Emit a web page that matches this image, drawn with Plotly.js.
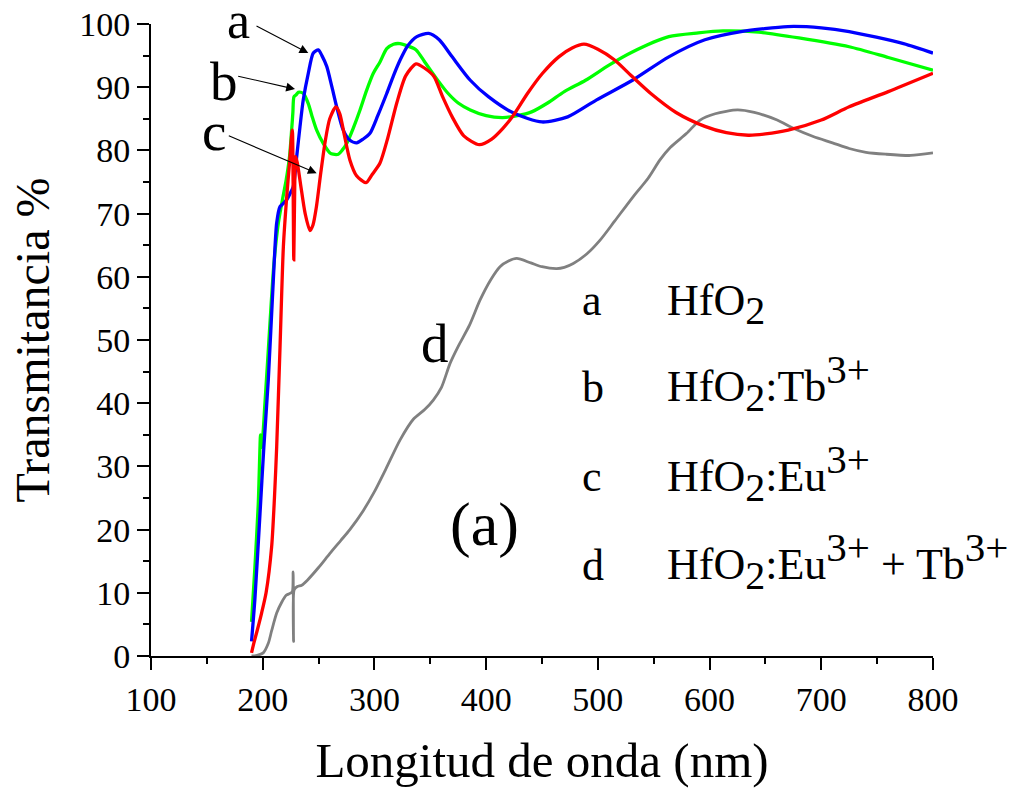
<!DOCTYPE html>
<html>
<head>
<meta charset="utf-8">
<script src="https://cdn.plot.ly/plotly-3.0.1.min.js"></script>
<style>html,body{margin:0;padding:0;background:#fff;}#chart{width:1017px;height:791px;}</style>
</head>
<body>
<div id="chart"></div>
<script>
// Wavelength (nm) / transmittance (%)
const wlA = [190,193,197.6,201,205,209.5,212.5,215.5,219,221.5,224,227.4,230.4,233.4,236.3,240.8,245.3,249.8,253,257.3,262,266.2,272.1,278,284.1,290,296,303,311,317,323,330,338,348.6,358,369.6,385.8,402,424.6,450,473,498.9,531,563.5,595.8,628.2,670,700,725,773.6,800];
const tA  = [2.3,9,22.6,33,43.7,59.5,68.5,71.1,71.7,72.2,73,74.3,79,83.8,88,92.2,95.4,95.9,95,93.3,90,86.9,83.2,81.6,81.2,81.8,82.7,85.5,89,91.8,94.3,96.6,98,98.5,97.5,94.8,91.1,88.5,85.9,84.5,85.3,88,91.1,94.8,97.5,98.8,99.6,99.4,98.8,96.9,95.4];

const wlB = [190,193,196,198,198.3,199,202,206.5,210,214,218,221,224,226,227,228,230,231.9,234,236.4,240.8,244,248.3,254.2,260.2,263,267.7,271,275.2,281,287.1,293,299,305,311,317,322.8,330,337.3,345,355,365,375,385.8,400,414.8,428,440.7,455,470,489,510,530,563.5,590,612,644,680,725,760,800];
const tB  = [5.4,14,24,35,33,33.1,40,52.7,62,68.5,72.5,75.3,79,83.5,86,88.5,88.8,89.2,89.2,89,87.4,85.5,83.2,81.1,79.6,79.4,79.4,80,81.1,83.5,86.4,89.5,92.2,94,96.1,96.8,96.9,96.5,95.9,94,91.5,89.2,87.5,86.4,85.5,85.2,85.5,86.1,87.5,89.3,91.1,93.5,95.5,98,98.6,98.9,98.7,97.8,96.4,94.7,92.7];

const wlC = [190,192,195,199,203,208,210.5,212.5,215.5,218.5,221.5,224,226.5,227.2,227.8,228.5,229.5,231,234,238,242.3,245,248,252,256,260,265.6,269,273,278,284,292.5,298,305,312,320,328,337.3,345,353.3,361,369.6,380,393.9,405,415,424.6,437,450.5,465,477,487.6,500,515,530,547.4,570,595.8,615,634.6,650,670.3,700,725,760,800];
const tC  = [0.5,2,4,6.8,10,17.3,25,33.1,48.9,64.8,72.7,78,83.2,75,62.7,72,79,78,74.5,70,67.3,68.2,71,76.5,81.5,85,86.9,85.8,82.5,78.5,76,74.9,76.2,78,82,87.5,91.8,93.7,93,91.7,88.5,85.3,82.3,80.9,81.8,83.5,85.6,89,92.2,94.8,96.2,96.8,96,94.3,91.8,89,86,83.8,82.8,82.4,82.6,83.2,84.8,86.9,89.3,92.2];

const wlD = [190,195,200.5,205,208,212.5,217,221,224.4,226.5,227.2,227.6,228.2,231,234.9,240,250,260,270,278,290,300,310,323,335,345,352.7,360,367.7,375,385,394.5,404,412.4,420,427.4,440,450,463.2,470,478,490,502,515,531.7,545,555.6,565,579.5,591.5,605,625,640,660.5,675,692.8,710,725,740,757.5,780,800];
const tD  = [0,0.1,0.5,2,4,6.8,8.5,9.6,9.9,10.2,13.3,2.3,10.5,11,11.2,12,14,16.2,18.3,20,23,26,29.5,34.2,37.5,39,40.5,42.5,46.3,49,52.3,56.3,59.5,61.6,62.5,62.9,62.2,61.6,61.3,61.5,62.1,63.6,65.8,68.8,72.7,75.6,78.5,80.5,82.7,84.8,85.8,86.4,86,84.8,83.5,82.2,81.2,80.3,79.7,79.4,79.2,79.6];

const xTickVals = [100,200,300,400,500,600,700,800];
const yTickVals = [0,10,20,30,40,50,60,70,80,90,100];
const curveLabels = ['a','b','c','d'];
const legendFormulas = ['HfO<sub><span style="font-size:40px">2</span></sub>',
  'HfO<sub><span style="font-size:40px">2</span></sub>:Tb<sup><span style="font-size:41px">3+</span></sup>',
  'HfO<sub><span style="font-size:40px">2</span></sub>:Eu<sup><span style="font-size:41px">3+</span></sup>',
  'HfO<sub><span style="font-size:40px">2</span></sub>:Eu<sup><span style="font-size:41px">3+</span></sup> + Tb<sup><span style="font-size:41px">3+</span></sup>'];

const FONT = '"Liberation Serif", "Times New Roman", Times, serif';
const W = 1017, H = 791, ML = 151, MR = 84, MT = 24, MB = 135;
const PW = W - ML - MR, PH = H - MT - MB;
const px = v => (v - ML) / PW;          // pixel -> paper x
const py = v => (H - MB - v) / PH;      // pixel -> paper y

function trace(x, y, color, w) {
  return {x: x, y: y, type: 'scatter', mode: 'lines',
    line: {color: color, width: w, shape: 'spline', smoothing: 0.7},
    showlegend: false, hoverinfo: 'skip'};
}
const data = [
  trace(wlD, tD, '#808080', 2.8),
  trace(wlB, tB, '#00ff00', 3.3),
  trace(wlA, tA, '#0000ff', 3.3),
  trace(wlC, tC, '#ff0000', 3.3)
];

const ann = [];
// arrows pointing to curves a, b, c
const arrows = [[193.1,99.8,240.8,95.4],[176.7,91.8,228.9,89.7],[168.3,82.4,248.3,76.4]];
arrows.forEach(a => ann.push({xref:'x', yref:'y', axref:'x', ayref:'y', ax:a[0], ay:a[1], x:a[2], y:a[3],
  text:'', showarrow:true, arrowhead:2, arrowsize:1.6, arrowwidth:1.1, arrowcolor:'#000', standoff:0, startstandoff:0}));
// curve letters
const letterPos = [[238.3,20.5],[224.2,81.8],[214,131.8],[435,343]];
letterPos.forEach((p,i) => ann.push({xref:'paper', yref:'paper', x:px(p[0]), y:py(p[1]), xanchor:'center', yanchor:'middle',
  text:curveLabels[i], showarrow:false, font:{family:FONT, size:i === 0 ? 52 : 55, color:'#000'}}));
ann.push({xref:'paper', yref:'paper', x:px(484), y:py(524), xanchor:'center', yanchor:'middle',
  text:'(a)', showarrow:false, font:{family:FONT, size:62, color:'#000'}});
// legend-like text block
const rowBase = [315, 402, 491.7, 580];
const rowOff = [10.7, 18.6, 18.6, 18.6];
rowBase.forEach((b,i) => {
  ann.push({xref:'paper', yref:'paper', x:px(580), y:py(b - 0.3375*44), xanchor:'left', yanchor:'middle',
    text:curveLabels[i], showarrow:false, font:{family:FONT, size:44, color:'#000'}});
  ann.push({xref:'paper', yref:'paper', x:px(665), y:py(b - rowOff[i]), xanchor:'left', yanchor:'middle',
    text:legendFormulas[i], showarrow:false, font:{family:FONT, size:44, color:'#000'}});
});

const layout = {
  width: W, height: H,
  margin: {l: ML, r: MR, t: MT, b: MB, pad: 0},
  paper_bgcolor: '#fff', plot_bgcolor: '#fff',
  font: {family: FONT, color: '#000'},
  showlegend: false,
  xaxis: {
    range: [100, 800], tickmode: 'array', tickvals: xTickVals, ticktext: xTickVals.map(String),
    ticks: 'outside', ticklen: 12, tickwidth: 2, tickcolor: '#000',
    minor: {dtick: 50, tick0: 100, ticks: 'outside', ticklen: 6, tickwidth: 2, tickcolor: '#000'},
    showline: true, linewidth: 2, linecolor: '#000', mirror: false,
    showgrid: false, zeroline: false,
    tickfont: {family: FONT, size: 34, color: '#000'},
    title: {text: 'Longitud de onda (nm)', font: {family: FONT, size: 49, color: '#000'}, standoff: 26},
    automargin: false
  },
  yaxis: {
    range: [0, 100], tickmode: 'array', tickvals: yTickVals, ticktext: yTickVals.map(String),
    ticks: 'outside', ticklen: 12, tickwidth: 2, tickcolor: '#000',
    minor: {dtick: 5, tick0: 0, ticks: 'outside', ticklen: 6, tickwidth: 2, tickcolor: '#000'},
    showline: true, linewidth: 2, linecolor: '#000', mirror: false,
    showgrid: false, zeroline: false,
    tickfont: {family: FONT, size: 34, color: '#000'},
    title: {text: 'Transmitancia %', font: {family: FONT, size: 48, color: '#000'}, standoff: 14},
    automargin: false
  },
  annotations: ann
};
Plotly.newPlot('chart', data, layout, {staticPlot: true, displayModeBar: false});
</script>
</body>
</html>
